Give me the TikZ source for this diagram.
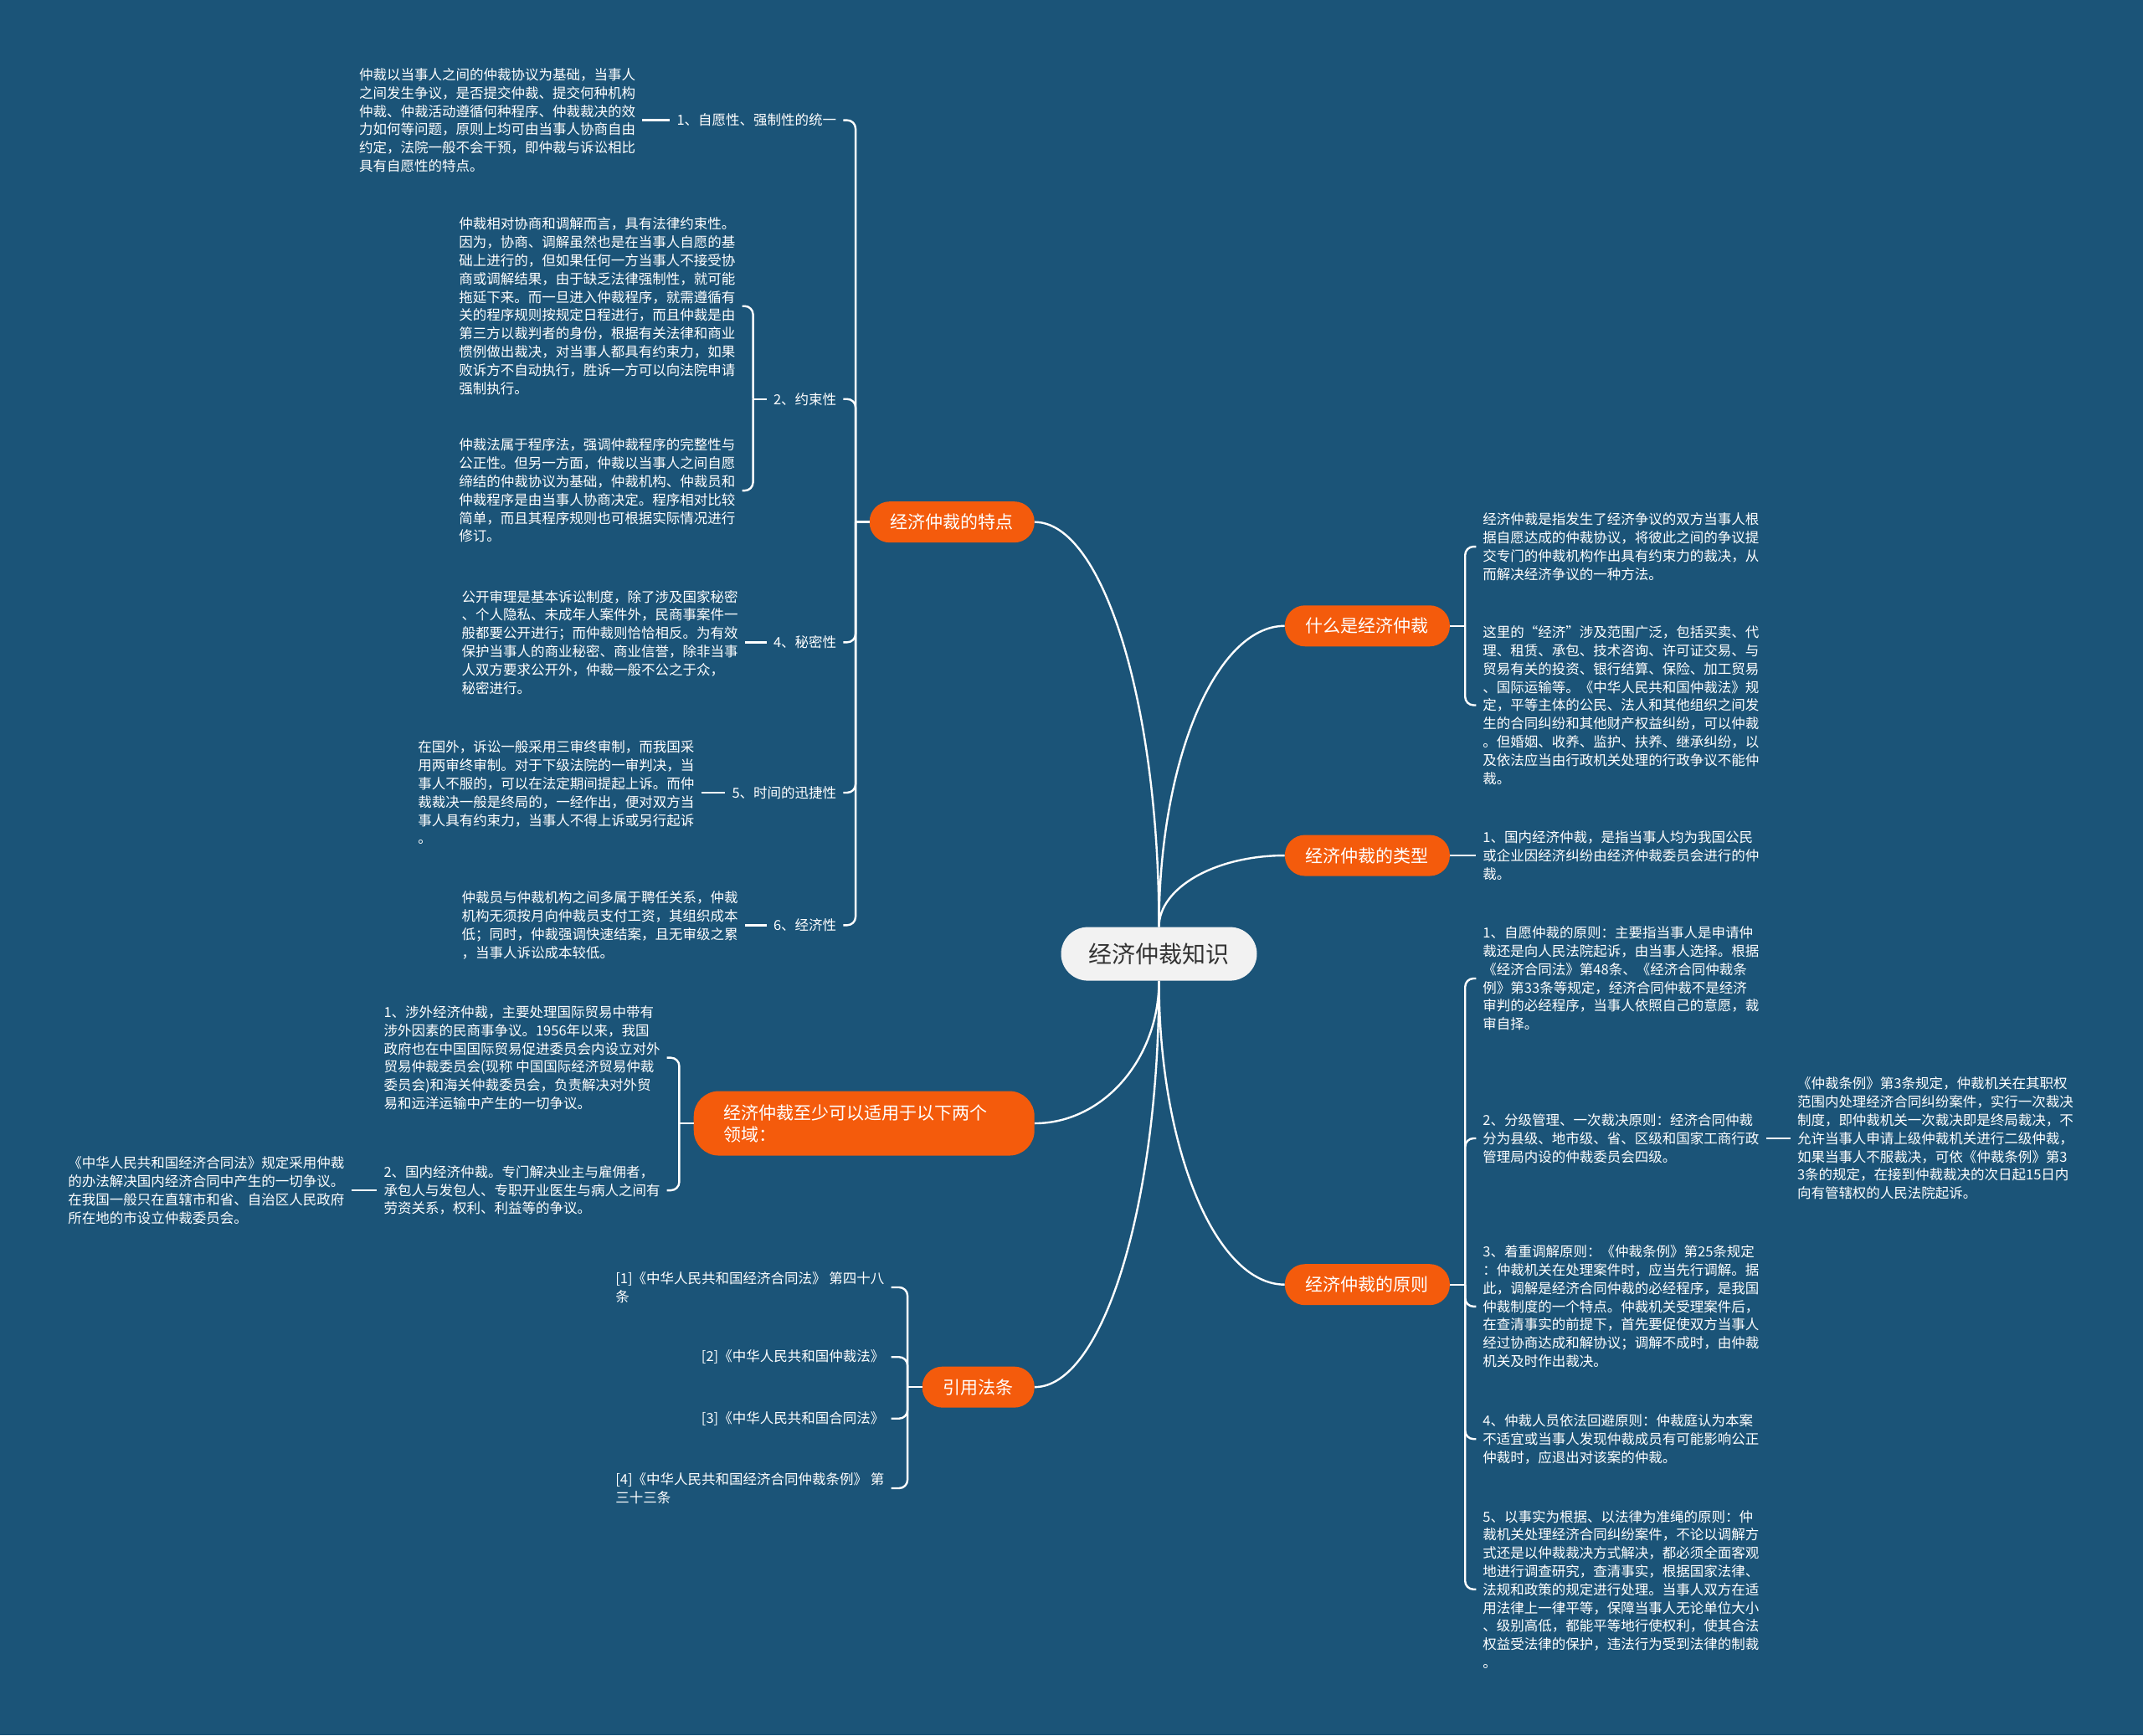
\documentclass[tikz,border=0pt]{standalone}
\usepackage{fontspec}
\setmainfont{Noto Sans CJK SC}
\definecolor{boardblue}{RGB}{27, 84, 120}
\definecolor{topicorange}{RGB}{244, 91, 12}
\definecolor{rootgray}{RGB}{242, 242, 242}
\definecolor{inkgray}{RGB}{51, 51, 51}
\usetikzlibrary{calc, positioning}

\tikzset{
  topic/.style = {fill=topicorange, text=white, rounded corners=24pt, minimum height=49pt, inner xsep=25pt, font=\fontsize{21}{26}\selectfont},
  note/.style = {text=white, align=left, inner xsep=8pt, inner ysep=0pt, font=\fontsize{16.5}{21.8}\selectfont},
  link/.style = {draw=white, line width=2.4pt},
  brace/.style = {link, rounded corners=10pt},
  bough/.style = {to path={.. controls ($(\tikztostart)!0.55!(\tikztostart|-\tikztotarget)$) and ($(\tikztotarget)!0.55!(\tikztostart|-\tikztotarget)$) .. (\tikztotarget)}},
}

\begin{document}
\begin{tikzpicture}[x=1.6327pt, y=-1.6327pt]
  \fill[boardblue] (0,0) rectangle (1568,1270);

  % root and main topics
  \node[fill=rootgray, text=inkgray, rounded corners=32pt, minimum height=64pt, inner xsep=33pt, font=\fontsize{28}{34}\selectfont] (root) at (848,698) {经济仲裁知识};
  \node[topic, anchor=east] (tedian) at (757,382) {经济仲裁的特点};
  \node[topic, anchor=west] (shenme) at (940,458) {什么是经济仲裁};
  \node[topic, anchor=west] (leixing) at (940,626) {经济仲裁的类型};
  \node[topic, anchor=east, align=left, text width=335pt, inner xsep=36pt, minimum height=77pt, rounded corners=30pt] (shiyong) at (757,822) {经济仲裁至少可以适用于以下两个\\领域：};
  \node[topic, anchor=west] (yuanze) at (940,940) {经济仲裁的原则};
  \node[topic, anchor=east] (yinyong) at (757,1015) {引用法条};

  \draw[link] (root.north) to[bough] (tedian.east);
  \draw[link] (root.north) to[bough] (shenme.west);
  \draw[link] (root.north) to[bough] (leixing.west);
  \draw[link] (root.south) to[bough] (shiyong.east);
  \draw[link] (root.south) to[bough] (yuanze.west);
  \draw[link] (root.south) to[bough] (yinyong.east);

  % features
  \coordinate (tdbus) at (626,382);
  \node[note, anchor=east] (td1) at (617,88) {1、自愿性、强制性的统一};
  \node[note, anchor=east] (td1x) at (470,88) {仲裁以当事人之间的仲裁协议为基础，当事人\\之间发生争议，是否提交仲裁、提交何种机构\\仲裁、仲裁活动遵循何种程序、仲裁裁决的效\\力如何等问题，原则上均可由当事人协商自由\\约定，法院一般不会干预，即仲裁与诉讼相比\\具有自愿性的特点。};
  \node[note, anchor=east] (td2) at (617,292) {2、约束性};
  \node[note, anchor=east] (td2a) at (543,224) {仲裁相对协商和调解而言，具有法律约束性。\\因为，协商、调解虽然也是在当事人自愿的基\\础上进行的，但如果任何一方当事人不接受协\\商或调解结果，由于缺乏法律强制性，就可能\\拖延下来。而一旦进入仲裁程序，就需遵循有\\关的程序规则按规定日程进行，而且仲裁是由\\第三方以裁判者的身份，根据有关法律和商业\\惯例做出裁决，对当事人都具有约束力，如果\\败诉方不自动执行，胜诉一方可以向法院申请\\强制执行。};
  \node[note, anchor=east] (td2b) at (543,359) {仲裁法属于程序法，强调仲裁程序的完整性与\\公正性。但另一方面，仲裁以当事人之间自愿\\缔结的仲裁协议为基础，仲裁机构、仲裁员和\\仲裁程序是由当事人协商决定。程序相对比较\\简单，而且其程序规则也可根据实际情况进行\\修订。};
  \node[note, anchor=east] (td4) at (617,470) {4、秘密性};
  \node[note, anchor=east] (td4x) at (545,470) {公开审理是基本诉讼制度，除了涉及国家秘密\\、个人隐私、未成年人案件外，民商事案件一\\般都要公开进行；而仲裁则恰恰相反。为有效\\保护当事人的商业秘密、商业信誉，除非当事\\人双方要求公开外，仲裁一般不公之于众，\\秘密进行。};
  \node[note, anchor=east] (td5) at (617,580) {5、时间的迅捷性};
  \node[note, anchor=east] (td5x) at (513,580) {在国外，诉讼一般采用三审终审制，而我国采\\用两审终审制。对于下级法院的一审判决，当\\事人不服的，可以在法定期间提起上诉。而仲\\裁裁决一般是终局的，一经作出，便对双方当\\事人具有约束力，当事人不得上诉或另行起诉\\。};
  \node[note, anchor=east] (td6) at (617,677) {6、经济性};
  \node[note, anchor=east] (td6x) at (545,677) {仲裁员与仲裁机构之间多属于聘任关系，仲裁\\机构无须按月向仲裁员支付工资，其组织成本\\低；同时，仲裁强调快速结案，且无审级之累\\，当事人诉讼成本较低。};

  \draw[link] (tedian.west) -- (tdbus);
  \draw[brace] (tdbus) |- (td1.east);
  \draw[brace] (tdbus) |- (td2.east);
  \draw[brace] (tdbus) |- (td4.east);
  \draw[brace] (tdbus) |- (td5.east);
  \draw[brace] (tdbus) |- (td6.east);
  \draw[link] (td1x.east) -- (td1.west);
  \coordinate (td2bus) at (551,292);
  \draw[link] (td2.west) -- (td2bus);
  \draw[brace] (td2bus) |- (td2a.east);
  \draw[brace] (td2bus) |- (td2b.east);
  \draw[link] (td4x.east) -- (td4.west);
  \draw[link] (td5x.east) -- (td5.west);
  \draw[link] (td6x.east) -- (td6.west);

  % what it is
  \coordinate (smbus) at (1072,458);
  \node[note, anchor=west] (sm1) at (1080,400) {经济仲裁是指发生了经济争议的双方当事人根\\据自愿达成的仲裁协议，将彼此之间的争议提\\交专门的仲裁机构作出具有约束力的裁决，从\\而解决经济争议的一种方法。};
  \node[note, anchor=west] (sm2) at (1080,516) {这里的“经济”涉及范围广泛，包括买卖、代\\理、租赁、承包、技术咨询、许可证交易、与\\贸易有关的投资、银行结算、保险、加工贸易\\、国际运输等。《中华人民共和国仲裁法》规\\定，平等主体的公民、法人和其他组织之间发\\生的合同纠纷和其他财产权益纠纷，可以仲裁\\。但婚姻、收养、监护、扶养、继承纠纷，以\\及依法应当由行政机关处理的行政争议不能仲\\裁。};
  \draw[link] (shenme.east) -- (smbus);
  \draw[brace] (smbus) |- (sm1.west);
  \draw[brace] (smbus) |- (sm2.west);

  % types
  \node[note, anchor=west] (lx1) at (1080,626) {1、国内经济仲裁，是指当事人均为我国公民\\或企业因经济纠纷由经济仲裁委员会进行的仲\\裁。};
  \draw[link] (leixing.east) -- (lx1.west);

  % principles
  \coordinate (yzbus) at (1072,940);
  \node[note, anchor=west] (yz1) at (1080,716) {1、自愿仲裁的原则：主要指当事人是申请仲\\裁还是向人民法院起诉，由当事人选择。根据\\《经济合同法》第48条、《经济合同仲裁条\\例》第33条等规定，经济合同仲裁不是经济\\审判的必经程序，当事人依照自己的意愿，裁\\审自择。};
  \node[note, anchor=west] (yz2) at (1080,833) {2、分级管理、一次裁决原则：经济合同仲裁\\分为县级、地市级、省、区级和国家工商行政\\管理局内设的仲裁委员会四级。};
  \node[note, anchor=west] (yz2x) at (1310,833) {《仲裁条例》第3条规定，仲裁机关在其职权\\范围内处理经济合同纠纷案件，实行一次裁决\\制度，即仲裁机关一次裁决即是终局裁决，不\\允许当事人申请上级仲裁机关进行二级仲裁，\\如果当事人不服裁决，可依《仲裁条例》第3\\3条的规定，在接到仲裁裁决的次日起15日内\\向有管辖权的人民法院起诉。};
  \node[note, anchor=west] (yz3) at (1080,956) {3、着重调解原则：《仲裁条例》第25条规定\\：仲裁机关在处理案件时，应当先行调解。据\\此，调解是经济合同仲裁的必经程序，是我国\\仲裁制度的一个特点。仲裁机关受理案件后，\\在查清事实的前提下，首先要促使双方当事人\\经过协商达成和解协议；调解不成时，由仲裁\\机关及时作出裁决。};
  \node[note, anchor=west] (yz4) at (1080,1053) {4、仲裁人员依法回避原则：仲裁庭认为本案\\不适宜或当事人发现仲裁成员有可能影响公正\\仲裁时，应退出对该案的仲裁。};
  \node[note, anchor=west] (yz5) at (1080,1163) {5、以事实为根据、以法律为准绳的原则：仲\\裁机关处理经济合同纠纷案件，不论以调解方\\式还是以仲裁裁决方式解决，都必须全面客观\\地进行调查研究，查清事实，根据国家法律、\\法规和政策的规定进行处理。当事人双方在适\\用法律上一律平等，保障当事人无论单位大小\\、级别高低，都能平等地行使权利，使其合法\\权益受法律的保护，违法行为受到法律的制裁\\。};
  \draw[link] (yuanze.east) -- (yzbus);
  \draw[brace] (yzbus) |- (yz1.west);
  \draw[brace] (yzbus) |- (yz2.west);
  \draw[brace] (yzbus) |- (yz3.west);
  \draw[brace] (yzbus) |- (yz4.west);
  \draw[brace] (yzbus) |- (yz5.west);
  \draw[link] (yz2.east) -- (yz2x.west);

  % scope
  \coordinate (sybus) at (497,822);
  \node[note, anchor=east] (sy1) at (488,774) {1、涉外经济仲裁，主要处理国际贸易中带有\\涉外因素的民商事争议。1956年以来，我国\\政府也在中国国际贸易促进委员会内设立对外\\贸易仲裁委员会(现称 中国国际经济贸易仲裁\\委员会)和海关仲裁委员会，负责解决对外贸\\易和远洋运输中产生的一切争议。};
  \node[note, anchor=east] (sy2) at (488,871) {2、国内经济仲裁。专门解决业主与雇佣者，\\承包人与发包人、专职开业医生与病人之间有\\劳资关系，权利、利益等的争议。};
  \node[note, anchor=east] (sy2x) at (257,871) {《中华人民共和国经济合同法》规定采用仲裁\\的办法解决国内经济合同中产生的一切争议。\\在我国一般只在直辖市和省、自治区人民政府\\所在地的市设立仲裁委员会。};
  \draw[link] (shiyong.west) -- (sybus);
  \draw[brace] (sybus) |- (sy1.east);
  \draw[brace] (sybus) |- (sy2.east);
  \draw[link] (sy2x.east) -- (sy2.west);

  % references
  \coordinate (yybus) at (664,1015);
  \node[note, anchor=east] (yy1) at (652,942) {[1]《中华人民共和国经济合同法》 第四十八\\条};
  \node[note, anchor=east] (yy2) at (652,993) {[2]《中华人民共和国仲裁法》};
  \node[note, anchor=east] (yy3) at (652,1038) {[3]《中华人民共和国合同法》};
  \node[note, anchor=east] (yy4) at (652,1089) {[4]《中华人民共和国经济合同仲裁条例》 第\\三十三条};
  \draw[link] (yinyong.west) -- (yybus);
  \draw[brace] (yybus) |- (yy1.east);
  \draw[brace] (yybus) |- (yy2.east);
  \draw[brace] (yybus) |- (yy3.east);
  \draw[brace] (yybus) |- (yy4.east);
\end{tikzpicture}
\end{document}
